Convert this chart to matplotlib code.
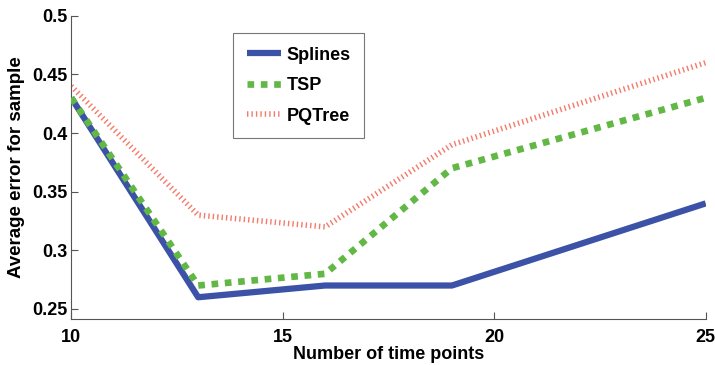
import matplotlib
matplotlib.use("Agg")
import matplotlib.pyplot as plt

# Average error per sample vs. number of time points
time_points = [10, 13, 16, 19, 25]
splines = [0.43, 0.26, 0.27, 0.27, 0.34]
tsp = [0.43, 0.27, 0.28, 0.37, 0.43]
pqtree = [0.44, 0.33, 0.32, 0.39, 0.46]

plt.rcParams["font.family"] = ["Liberation Sans", "DejaVu Sans"]
plt.rcParams["font.weight"] = "bold"

fig = plt.figure(figsize=(7.15, 3.65), dpi=100)
ax = fig.add_axes([0.0997, 0.1252, 0.8873, 0.8318])

ax.plot(time_points, pqtree, color="#f47a6a", linewidth=4,
        dashes=(0.25, 0.55), dash_capstyle="butt", label="PQTree", zorder=2)
ax.plot(time_points, splines, color="#3b52a6", linewidth=4.5,
        solid_capstyle="butt", label="Splines", zorder=3)
ax.plot(time_points, tsp, color="#62b845", linewidth=4.8,
        dashes=(1, 1), dash_capstyle="butt", label="TSP", zorder=4)

ax.set_xlim(10, 25)
ax.set_ylim(0.2412, 0.5)
ax.set_xticks([10, 15, 20, 25])
ax.set_yticks([0.25, 0.3, 0.35, 0.4, 0.45, 0.5])
ax.set_yticklabels(["0.25", "0.3", "0.35", "0.4", "0.45", "0.5"])
ax.tick_params(direction="in", length=5, width=0.8, color="#555555",
               labelsize=13)
ax.tick_params(axis="x", pad=7)
ax.tick_params(axis="y", pad=3)
for lbl in ax.get_xticklabels() + ax.get_yticklabels():
    lbl.set_fontweight("bold")
for side in ("top", "right"):
    ax.spines[side].set_visible(False)
for side in ("left", "bottom"):
    ax.spines[side].set_color("#555555")
    ax.spines[side].set_linewidth(0.8)

ax.set_xlabel("Number of time points", fontsize=13, fontweight="bold", labelpad=0)
ax.set_ylabel("Average error for sample", fontsize=13.5, fontweight="bold", labelpad=5)

handles, labels = ax.get_legend_handles_labels()
order = [1, 2, 0]
leg = ax.legend([handles[i] for i in order], [labels[i] for i in order],
                loc="upper left", bbox_to_anchor=(0.255, 0.943),
                fancybox=False, edgecolor="#777777", framealpha=1,
                prop={"weight": "bold", "size": 13},
                handlelength=1.9, handletextpad=0.3, labelspacing=0.75,
                borderpad=0.75, borderaxespad=0)
leg.get_frame().set_linewidth(0.8)

fig.savefig("out.png", dpi=100, facecolor="white")
